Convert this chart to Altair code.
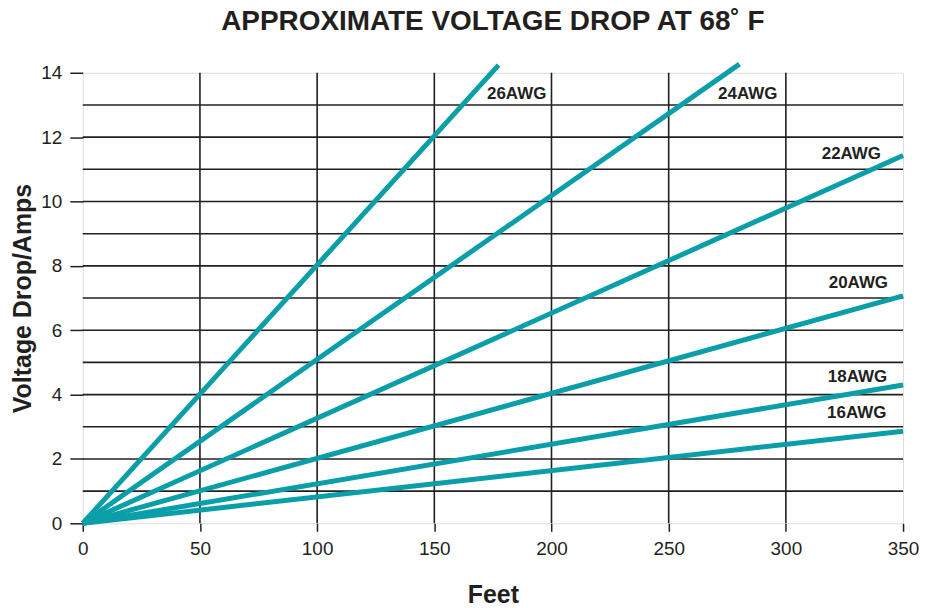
import altair as alt
import pandas as pd

# ---- data ----
wires = ["26AWG", "24AWG", "22AWG", "20AWG", "18AWG", "16AWG"]
end_feet = [177.4, 280.2, 350, 350, 350, 350]
end_volts = [14.24, 14.27, 11.43, 7.07, 4.30, 2.86]
label_feet = [197.8, 296.4, 340.6, 343.6, 343.2, 342.9]
label_volts = [13.19, 13.19, 11.33, 7.30, 4.38, 3.26]

x_ticks = [0, 50, 100, 150, 200, 250, 300, 350]
y_ticks = [0, 2, 4, 6, 8, 10, 12, 14]
x_grid = [50, 100, 150, 200, 250, 300]
y_grid = [1, 2, 3, 4, 5, 6, 7, 8, 9, 10, 11, 12, 13]

TEAL = "#0a9fa8"
INK = "#231f20"
FONT = "Liberation Sans"

rows = []
for w, fx, fy in zip(wires, end_feet, end_volts):
    rows.append({"wire": w, "feet": 0, "volts": 0})
    rows.append({"wire": w, "feet": fx, "volts": fy})
lines_df = pd.DataFrame(rows)
labels_df = pd.DataFrame({"wire": wires, "feet": label_feet, "volts": label_volts})
xg_df = pd.DataFrame({"feet": x_grid})
yg_df = pd.DataFrame({"volts": y_grid})

xscale = alt.Scale(domain=[0, 350], nice=False)
yscale = alt.Scale(domain=[0, 14], nice=False)

x_axis = alt.Axis(
    values=x_ticks, grid=False, domain=False, tickSize=8, tickWidth=1.5,
    tickColor=INK, labelFont=FONT, labelFontSize=19, labelColor=INK,
    labelPadding=8, labelFlush=False, title="Feet", titleFont=FONT,
    titleFontSize=25, titleFontWeight="bold", titleColor=INK,
    titleBaseline="alphabetic", titleX=411.5, titleY=79, titleAlign="center",
)
y_axis = alt.Axis(
    values=y_ticks, grid=False, domain=False, tickSize=13, tickWidth=1.5,
    tickColor=INK, labelFont=FONT, labelFontSize=19, labelColor=INK,
    labelPadding=8, labelFlush=False, title="Voltage Drop/Amps", titleFont=FONT,
    titleFontSize=25, titleFontWeight="bold", titleColor=INK,
    titleBaseline="alphabetic", titleX=-52, titleY=226, titleAlign="center",
    titleAngle=270,
)

xgrid = alt.Chart(xg_df).mark_rule(color=INK, strokeWidth=1.6).encode(
    x=alt.X("feet:Q", scale=xscale, axis=x_axis)
)
ygrid = alt.Chart(yg_df).mark_rule(color=INK, strokeWidth=1.6).encode(
    y=alt.Y("volts:Q", scale=yscale, axis=y_axis)
)
lines = alt.Chart(lines_df).mark_line(color=TEAL, strokeWidth=5, strokeCap="butt").encode(
    x=alt.X("feet:Q", scale=xscale),
    y=alt.Y("volts:Q", scale=yscale),
    detail="wire:N",
)
labels = alt.Chart(labels_df).mark_text(
    align="right", baseline="alphabetic", font=FONT, fontSize=17,
    fontWeight="bold", color=INK,
).encode(
    x=alt.X("feet:Q", scale=xscale),
    y=alt.Y("volts:Q", scale=yscale),
    text="wire:N",
)

chart = (
    alt.layer(xgrid, ygrid, lines, labels)
    .properties(
        width=823,
        height=452,
        padding={"left": 75, "top": 64, "right": 16, "bottom": 88},
        autosize=alt.AutoSizeParams(type="none"),
        title=alt.TitleParams(
            "APPROXIMATE VOLTAGE DROP AT 68˚ F", font=FONT, fontSize=28,
            fontWeight="bold", color=INK, anchor="middle", offset=18,
        ),
    )
    .configure_view(stroke=INK, strokeWidth=3.5)
    .configure(background="white")
)

chart.save("out.html", embed_options={"renderer": "svg", "actions": False})
